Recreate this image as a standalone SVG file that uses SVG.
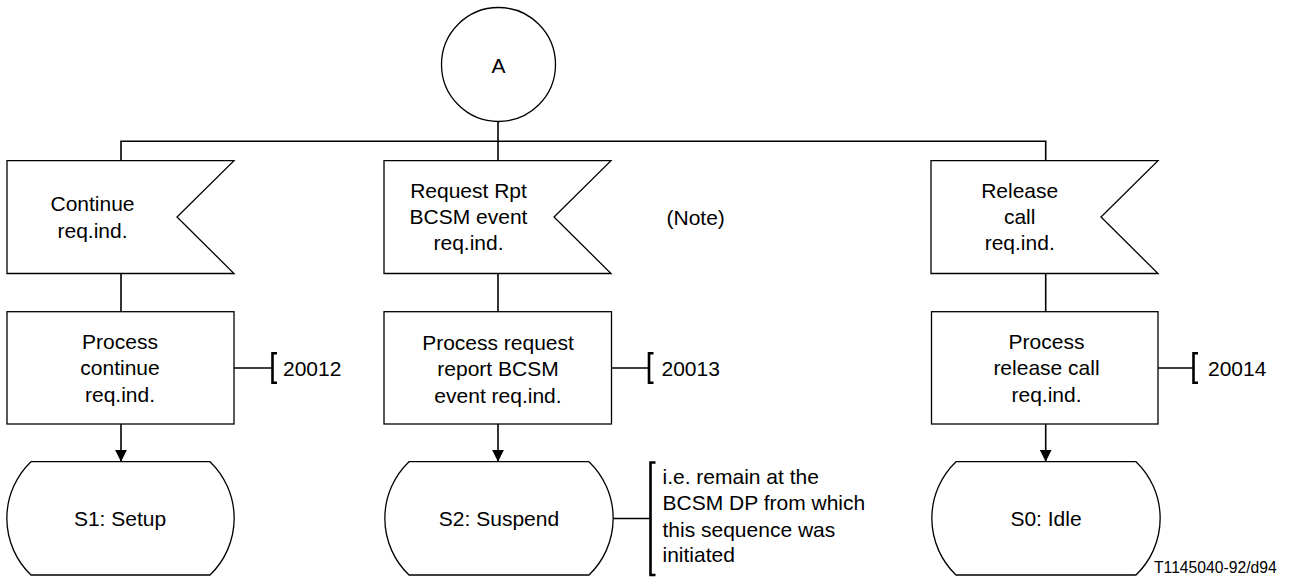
<svg xmlns="http://www.w3.org/2000/svg" width="1292" height="578" viewBox="0 0 1292 578">
<defs>
<style>
.sh{fill:#fff;stroke:#000;stroke-width:1.3}
.ln{fill:none;stroke:#000;stroke-width:1.6}
.br{fill:none;stroke:#000;stroke-width:2.6}
text{font-family:"Liberation Sans",Arial,sans-serif;font-size:21px;fill:#000}
.c{text-anchor:middle}
.sm{font-size:15.7px}
</style>
<marker id="ah" markerWidth="12" markerHeight="12" refX="12" refY="6" orient="auto" markerUnits="userSpaceOnUse">
<path d="M0,0 L12,6 L0,12 Z" fill="#000"/>
</marker>
</defs>
<rect width="1292" height="578" fill="#fff"/>
<g id="connectors">
<line class="ln" x1="498" y1="121.7" x2="498" y2="141.3"/>
<polyline class="ln" points="121,160.7 121,141.3 1045.7,141.3 1045.7,160.7"/>
<line class="ln" x1="498" y1="141.3" x2="498" y2="160.7"/>
<line class="ln" x1="121" y1="273.5" x2="121" y2="311.7"/>
<line class="ln" x1="498" y1="273.5" x2="498" y2="311.7"/>
<line class="ln" x1="1045.7" y1="273.5" x2="1045.7" y2="311.7"/>
<line class="ln" x1="121" y1="424" x2="121" y2="461.7" marker-end="url(#ah)"/>
<line class="ln" x1="498" y1="424" x2="498" y2="461.7" marker-end="url(#ah)"/>
<line class="ln" x1="1045.7" y1="424" x2="1045.7" y2="461.7" marker-end="url(#ah)"/>
<line class="ln" x1="234" y1="368" x2="272.5" y2="368"/>
<line class="ln" x1="611.5" y1="368" x2="649" y2="368"/>
<line class="ln" x1="1158" y1="368" x2="1193.5" y2="368"/>
<line class="ln" x1="612" y1="518.5" x2="650.5" y2="518.5"/>
</g>
<g id="connectorA">
<circle class="sh" cx="498.5" cy="64.5" r="57"/>
<text class="c" x="498.5" y="72.5">A</text>
</g>
<g id="in1">
<path class="sh" d="M7,160.7 H234 L177,217 L234,273.5 H7 Z"/>
<text class="c" x="92.5" y="211">Continue</text>
<text class="c" x="92.5" y="237.5">req.ind.</text>
</g>
<g id="in2">
<path class="sh" d="M384,160.7 H611 L554,217 L611,273.5 H384 Z"/>
<text class="c" x="468.5" y="198.3">Request Rpt</text>
<text class="c" x="468.5" y="224">BCSM event</text>
<text class="c" x="468.5" y="249.5">req.ind.</text>
</g>
<g id="note">
<text x="666.5" y="225">(Note)</text>
</g>
<g id="in3">
<path class="sh" d="M931,160.7 H1158 L1101,217 L1158,273.5 H931 Z"/>
<text class="c" x="1019.7" y="198.3">Release</text>
<text class="c" x="1019.7" y="224">call</text>
<text class="c" x="1019.7" y="249.5">req.ind.</text>
</g>
<g id="p1">
<rect class="sh" x="7" y="311.7" width="227" height="112.3"/>
<text class="c" x="120" y="348.5">Process</text>
<text class="c" x="120" y="375">continue</text>
<text class="c" x="120" y="401.7">req.ind.</text>
</g>
<g id="p2">
<rect class="sh" x="384" y="311.7" width="227.5" height="112.3"/>
<text class="c" x="498" y="349.5">Process request</text>
<text class="c" x="498" y="376">report BCSM</text>
<text class="c" x="498" y="402.5">event req.ind.</text>
</g>
<g id="p3">
<rect class="sh" x="931.5" y="311.7" width="226.5" height="112.3"/>
<text class="c" x="1046.5" y="348.5">Process</text>
<text class="c" x="1046.5" y="375">release call</text>
<text class="c" x="1046.5" y="401.7">req.ind.</text>
</g>
<g id="c1">
<path class="br" d="M277,353.3 H272.5 V382.7 H277"/>
<text x="283" y="376">20012</text>
</g>
<g id="c2">
<path class="br" d="M653.5,353.3 H649 V382.7 H653.5"/>
<text x="661.5" y="376">20013</text>
</g>
<g id="c3">
<path class="br" d="M1198,353.3 H1193.5 V382.7 H1198"/>
<text x="1208" y="376">20014</text>
</g>
<g id="s1">
<path class="sh" d="M31,461.7 H210 A78.5,78.5 0 0 1 210,575 H31 A78.5,78.5 0 0 1 31,461.7 Z"/>
<text class="c" x="120" y="526">S1: Setup</text>
</g>
<g id="s2">
<path class="sh" d="M409,461.7 H589 A78.5,78.5 0 0 1 589,575 H409 A78.5,78.5 0 0 1 409,461.7 Z"/>
<text class="c" x="499" y="525.5">S2: Suspend</text>
</g>
<g id="s3">
<path class="sh" d="M956,461.7 H1136 A78.5,78.5 0 0 1 1136,575 H956 A78.5,78.5 0 0 1 956,461.7 Z"/>
<text class="c" x="1046" y="525.5">S0: Idle</text>
</g>
<g id="c4">
<path class="br" d="M655.5,462.5 H650.5 V575 H655.5"/>
<text x="662.5" y="484">i.e. remain at the</text>
<text x="662.5" y="510">BCSM DP from which</text>
<text x="662.5" y="536.5">this sequence was</text>
<text x="662.5" y="562">initiated</text>
</g>
<g id="footer">
<text class="sm" x="1154" y="572.5">T1145040-92/d94</text>
</g>
</svg>
